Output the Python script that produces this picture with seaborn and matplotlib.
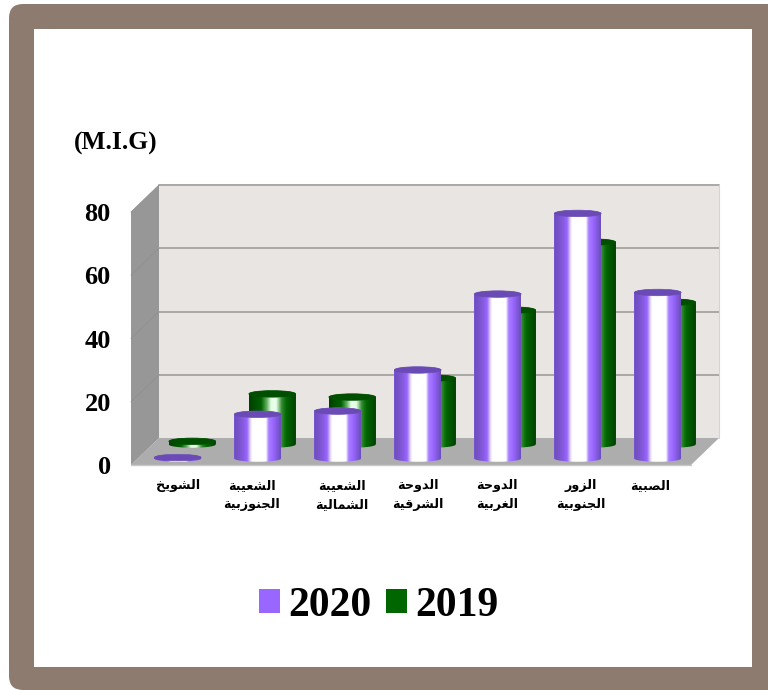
import numpy as np
import pandas as pd
import matplotlib
matplotlib.use('Agg')
import matplotlib.pyplot as plt
import seaborn as sns
from matplotlib.colors import LinearSegmentedColormap
from matplotlib.patches import Ellipse, FancyBboxPatch, Polygon, Rectangle
from matplotlib.path import Path
from matplotlib.transforms import Affine2D, IdentityTransform, ScaledTranslation

# Values
sites = ['الشويخ', 'الشعيبة\nالجنوزبية', 'الشعيبة\nالشمالية', 'الدوحة\nالشرقية',
         'الدوحة\nالغربية', 'الزور\nالجنوبية', 'الصبية']
values_2020 = [0.3, 14, 15, 28, 52, 77.5, 52.5]
values_2019 = [1, 16, 15, 21, 42.5, 64, 45]
y_ticks = [0, 20, 40, 60, 80]

# matplotlib does no Arabic shaping, so map letters to their joined forms by hand
# letter: (isolated, final, initial, medial); None = does not join to the next letter
FORMS = {
    'ا': ('\uFE8D', '\uFE8E', None, None),
    'ب': ('\uFE8F', '\uFE90', '\uFE91', '\uFE92'),
    'ة': ('\uFE93', '\uFE94', None, None),
    'ج': ('\uFE9D', '\uFE9E', '\uFE9F', '\uFEA0'),
    'ح': ('\uFEA1', '\uFEA2', '\uFEA3', '\uFEA4'),
    'خ': ('\uFEA5', '\uFEA6', '\uFEA7', '\uFEA8'),
    'د': ('\uFEA9', '\uFEAA', None, None),
    'ر': ('\uFEAD', '\uFEAE', None, None),
    'ز': ('\uFEAF', '\uFEB0', None, None),
    'ش': ('\uFEB5', '\uFEB6', '\uFEB7', '\uFEB8'),
    'ص': ('\uFEB9', '\uFEBA', '\uFEBB', '\uFEBC'),
    'ع': ('\uFEC9', '\uFECA', '\uFECB', '\uFECC'),
    'غ': ('\uFECD', '\uFECE', '\uFECF', '\uFED0'),
    'ق': ('\uFED5', '\uFED6', '\uFED7', '\uFED8'),
    'ل': ('\uFEDD', '\uFEDE', '\uFEDF', '\uFEE0'),
    'م': ('\uFEE1', '\uFEE2', '\uFEE3', '\uFEE4'),
    'ن': ('\uFEE5', '\uFEE6', '\uFEE7', '\uFEE8'),
    'و': ('\uFEED', '\uFEEE', None, None),
    'ي': ('\uFEF1', '\uFEF2', '\uFEF3', '\uFEF4'),
}


def shape_word(word):
    out = []
    joined = False
    for i, ch in enumerate(word):
        forms = FORMS[ch]
        can_next = forms[2] is not None and i + 1 < len(word)
        if joined and can_next:
            out.append(forms[3])
        elif joined:
            out.append(forms[1])
        elif can_next:
            out.append(forms[2])
        else:
            out.append(forms[0])
        joined = can_next
    return ''.join(reversed(out))


def shape(label):
    return '\n'.join(shape_word(w) for w in label.split('\n'))


sns.set_theme(style='white')
plt.rcParams['font.family'] = ['Liberation Serif', 'DejaVu Sans']

df = pd.DataFrame({
    'site': sites * 2,
    'year': ['2019'] * 7 + ['2020'] * 7,
    'value': values_2019 + values_2020,
})

fig = plt.figure(figsize=(7.68, 6.9), dpi=100, facecolor='white')

# Brown picture frame, in pixels; runs off the right edge so only the left corners are round
frame = FancyBboxPatch((9, 0), 790, 686, boxstyle='round,pad=0,rounding_size=14',
                       transform=IdentityTransform(), fc='#8D7B70', ec='none', zorder=-2)
inner = Rectangle((34, 23), 718, 638, transform=IdentityTransform(), fc='white', ec='none',
                  zorder=-1)
fig.add_artist(frame)
fig.add_artist(inner)

ax = fig.add_axes([131 / 768, 225 / 690, 560 / 768, 253 / 690])
ax.patch.set_visible(False)

green = '#006600'
purple = '#9966FF'
sns.barplot(data=df, x='site', y='value', hue='year', hue_order=['2019', '2020'],
            palette={'2019': green, '2020': purple}, dodge=False, width=0.585,
            saturation=1, linewidth=0, ax=ax)

ax.set_xlim(-0.5, 6.5)
ax.set_ylim(0, 80)

# Fake 3D depth, in data units
depth_x = 28 / 80
depth_y = 27 / (253 / 80)
ell_h = 6.5 / (253 / 80)
x0, x1 = ax.get_xlim()
y0, y1 = ax.get_ylim()
bx0, bx1 = x0 + depth_x, x1 + depth_x
by0, by1 = y0 + depth_y, y1 + depth_y

ax.add_patch(Polygon([(bx0, by0), (bx1, by0), (bx1, by1), (bx0, by1)], fc='#E8E5E2', ec='none',
                     zorder=0.1, clip_on=False))
ax.add_patch(Polygon([(x0, y0), (x1, y0), (bx1, by0), (bx0, by0)], fc='#ADADAD', ec='none',
                     zorder=0.2, clip_on=False))
ax.add_patch(Polygon([(x0, y0), (bx0, by0), (bx0, by1), (x0, y1)], fc='#979797', ec='none',
                     zorder=0.2, clip_on=False))
for t in y_ticks[1:]:
    ax.plot([bx0, bx1], [t + depth_y] * 2, color='#ABA7A3', lw=1.4, zorder=0.3, clip_on=False)
    ax.plot([x0, bx0], [t, t + depth_y], color='#909090', lw=0.6, zorder=0.3, clip_on=False)
ax.plot([bx1, bx1], [by0, by1], color='#D6D3D0', lw=0.8, zorder=0.3, clip_on=False)
ax.plot([x0, x1], [y0, y0], color='#C8C8C8', lw=1, zorder=0.3, clip_on=False)

purple_map = LinearSegmentedColormap.from_list('p', [
    (0, '#6A4DB8'), (0.18, '#8459DE'), (0.28, '#9966FF'), (0.36, '#F0E8FF'), (0.39, '#FFFFFF'),
    (0.68, '#FFFFFF'), (0.74, '#A97DFF'), (0.84, '#9966FF'), (1, '#6A4DB8')])
green_map = LinearSegmentedColormap.from_list('g', [
    (0, '#004000'), (0.26, '#006000'), (0.38, '#60B060'), (0.47, '#E8FFE8'),
    (0.58, '#E8FFE8'), (0.7, '#308830'), (0.8, '#006600'), (1, '#004000')])

# seaborn containers follow hue order: 2019 at the back, 2020 in front
series = [
    (ax.containers[0], green_map, '#004F00', 0.76, 2),
    (ax.containers[1], purple_map, '#6A4BB5', 0.24, 4),
]
theta = np.linspace(0, np.pi, 40)
for bars, cmap, top_color, frac, z in series:
    shift = Affine2D().translate(depth_x * frac, depth_y * frac) + ax.transData
    for bar in bars:
        x, w, h = bar.get_x(), bar.get_width(), bar.get_height()
        cx = x + w / 2
        bar.set_transform(shift)
        bar.set_clip_on(False)
        bar.set_zorder(z)
        # cylinder body: gradient clipped to the rect with a rounded bottom
        bottom = np.c_[cx - w / 2 * np.cos(theta), -ell_h / 2 * np.sin(theta)]
        top = np.c_[cx + w / 2 * np.cos(theta), h + ell_h / 2 * np.sin(theta)]
        outline = Path(np.vstack([bottom, top, bottom[:1]]), closed=True)
        im = ax.imshow(np.linspace(0, 1, 256)[None, :], cmap=cmap, aspect='auto',
                       extent=(x, x + w, -ell_h, h + ell_h), zorder=z + 0.1,
                       interpolation='bilinear')
        im.set_transform(shift)
        im.set_clip_box(fig.bbox)
        im.set_clip_path(outline, shift)
        ax.add_patch(Ellipse((cx, h), w, ell_h, transform=shift, fc=top_color, ec=top_color,
                             lw=0.5, zorder=z + 0.2, clip_on=False))

ax.set_xlim(x0, x1)
ax.set_ylim(y0, y1)
sns.despine(ax=ax, left=True, bottom=True)
ax.set_xlabel('')
ax.set_ylabel('')
ax.tick_params(length=0)

ax.set_yticks(y_ticks)
ax.set_yticklabels([str(t) for t in y_ticks], fontsize=19, fontweight='bold',
                   family='Liberation Serif', color='black')
ax.tick_params(axis='y', pad=14.5)

ax.set_xticks(range(len(sites)))
ax.set_xticklabels([shape(s) for s in sites], fontsize=9.2, fontweight='bold',
                   family='DejaVu Sans', color='black', linespacing=1.6, va='top')
ax.tick_params(axis='x', pad=10)
label_nudge = [7, 1, 11, 7, 6, 10, -1]
for lab, dx in zip(ax.get_xticklabels(), label_nudge):
    lab.set_transform(lab.get_transform() + ScaledTranslation(dx / 100, 0, fig.dpi_scale_trans))

fig.text(74 / 768, 1 - 143 / 690, '(M.I.G)', fontsize=18.4, fontweight='bold',
         family='Liberation Serif', va='center', ha='left', color='black')

handles, labels = ax.get_legend_handles_labels()
ax.legend(handles[::-1], labels[::-1], ncol=2, frameon=False, loc='center',
          bbox_to_anchor=(378.5 / 768, 1 - 606 / 690), bbox_transform=fig.transFigure,
          prop={'family': 'Liberation Serif', 'weight': 'bold', 'size': 30}, labelcolor='black',
          handlelength=0.5, handleheight=0.5, handletextpad=0.2, columnspacing=0.35,
          borderpad=0, borderaxespad=0)

fig.savefig('out.png', dpi=100)
